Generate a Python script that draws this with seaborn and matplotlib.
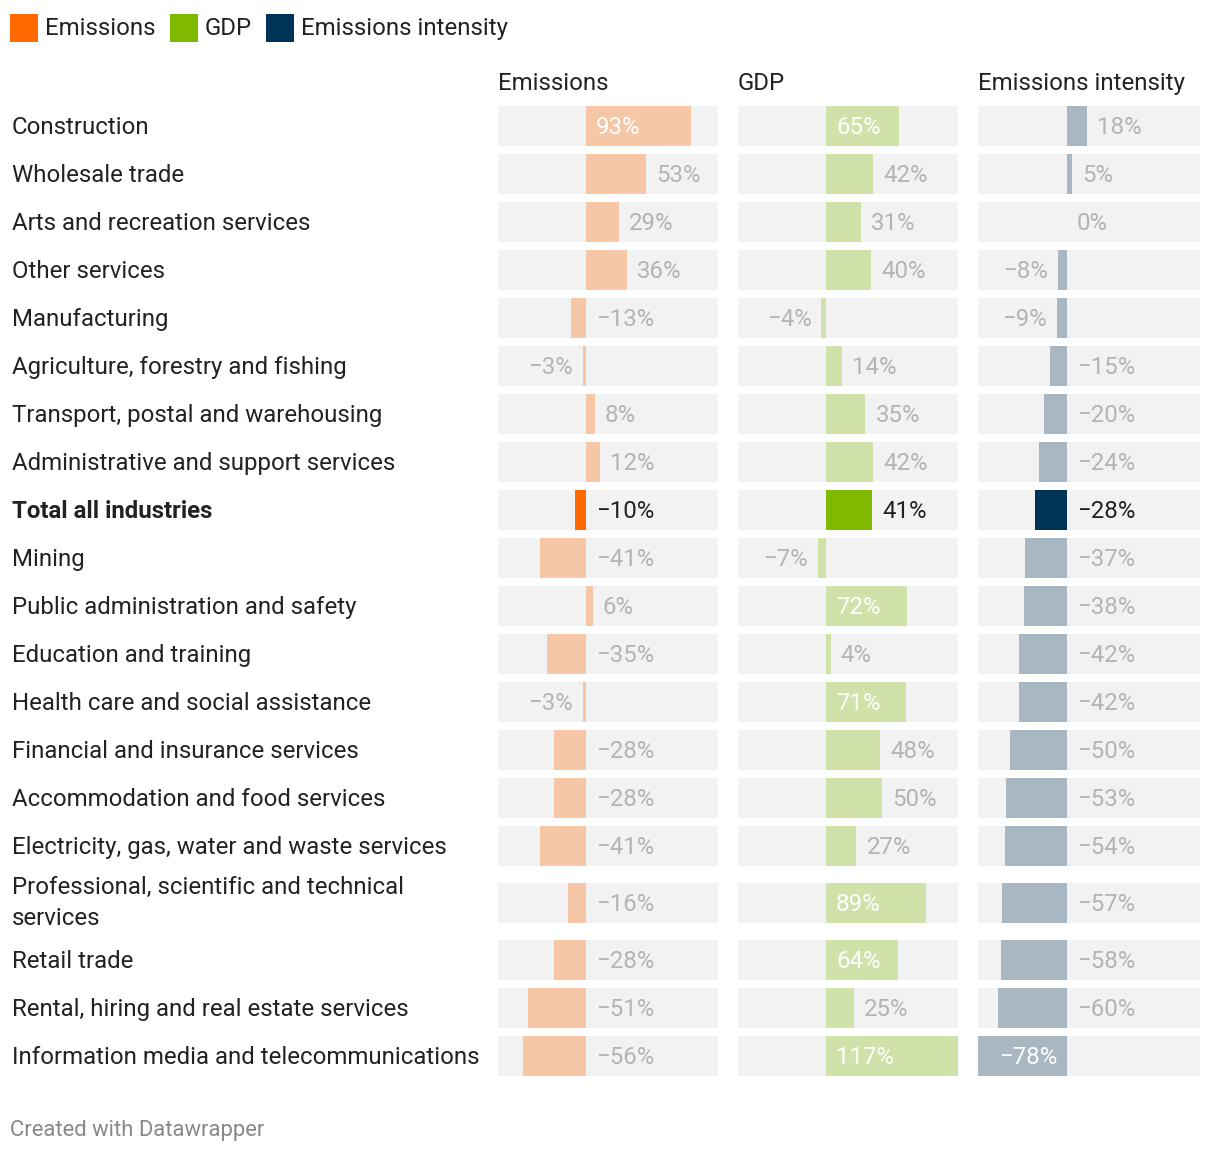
import matplotlib
matplotlib.use("Agg")
import matplotlib.pyplot as plt
from matplotlib.patches import Rectangle
import numpy as np
import pandas as pd
import seaborn as sns

# ---------------- data ----------------
industries = [
    "Construction",
    "Wholesale trade",
    "Arts and recreation services",
    "Other services",
    "Manufacturing",
    "Agriculture, forestry and fishing",
    "Transport, postal and warehousing",
    "Administrative and support services",
    "Total all industries",
    "Mining",
    "Public administration and safety",
    "Education and training",
    "Health care and social assistance",
    "Financial and insurance services",
    "Accommodation and food services",
    "Electricity, gas, water and waste services",
    "Professional, scientific and technical services",
    "Retail trade",
    "Rental, hiring and real estate services",
    "Information media and telecommunications",
]
emissions = [93, 53, 29, 36, -13, -3, 8, 12, -10, -41, 6, -35, -3, -28, -28, -41, -16, -28, -51, -56]
gdp = [65, 42, 31, 40, -4, 14, 35, 42, 41, -7, 72, 4, 71, 48, 50, 27, 89, 64, 25, 117]
intensity = [18, 5, 0, -8, -9, -15, -20, -24, -28, -37, -38, -42, -42, -50, -53, -54, -57, -58, -60, -78]
highlight = "Total all industries"

series_names = ["Emissions", "GDP", "Emissions intensity"]
strong_colors = ["#ff6a00", "#7fba00", "#003356"]
light_colors = ["#f5c7a7", "#d1e1aa", "#a8b7c2"]

# ---------------- style ----------------
plt.rcParams["font.family"] = ["Roboto", "DejaVu Sans"]
TEXT = "#222222"
GREY_LABEL = "#b4b4b4"
BG = "#f2f2f2"

W, H = 1220, 1152
DPI = 100
FS = 24 * 72 / DPI          # 24 px
FS_FOOT = 22 * 72 / DPI
DY = -1                     # small optical vertical shift for text

fig = plt.figure(figsize=(W / DPI, H / DPI), dpi=DPI)
fig.patch.set_facecolor("white")
renderer = fig.canvas.get_renderer()


def text_width(s, size=FS, weight="normal"):
    t = fig.text(0, 0, s, fontsize=size, weight=weight)
    w = t.get_window_extent(renderer).width
    t.remove()
    return w


def fx(x):
    return x / W


def fy(y):
    return 1 - y / H


def fmt(v):
    return ("\u2212" if v < 0 else "") + f"{abs(v)}%"


# ---------------- wrap labels & row layout ----------------
LABEL_X = 12
LABEL_MAXW = 476


def wrap(label, weight):
    words = label.split()
    lines, cur = [], ""
    for w_ in words:
        trial = (cur + " " + w_).strip()
        if cur and text_width(trial, FS, weight) > LABEL_MAXW:
            lines.append(cur)
            cur = w_
        else:
            cur = trial
    lines.append(cur)
    return "\n".join(lines)


wrapped = [wrap(l, "bold" if l == highlight else "normal") for l in industries]
nlines = np.array([w_.count("\n") + 1 for w_ in wrapped])
ROW = 48
EXTRA = 18
BAR_H = 40
TOP = 102
heights = ROW + EXTRA * (nlines - 1)
centers = TOP + np.cumsum(heights) - heights / 2
BOTTOM = TOP + heights.sum()

df = pd.DataFrame({
    "industry": industries,
    "ypos": centers,
    "Emissions": emissions,
    "GDP": gdp,
    "Emissions intensity": intensity,
})

XMIN = min(min(emissions), min(gdp), min(intensity))
XMAX = max(max(emissions), max(gdp), max(intensity))

panel_left = [498, 738, 978]
panel_w = [220, 220, 222]
PAD = 10

for i, name in enumerate(series_names):
    L, PW = panel_left[i], panel_w[i]
    ax = fig.add_axes([fx(L), fy(BOTTOM), PW / W, (BOTTOM - TOP) / H])
    ppu = PW / (XMAX - XMIN)
    # background tracks
    ax.barh(df["ypos"], XMAX - XMIN, left=XMIN, height=BAR_H, color=BG, zorder=0)
    palette = {ind: (strong_colors[i] if ind == highlight else light_colors[i]) for ind in industries}
    sns.barplot(data=df, x=name, y="ypos", hue="industry", palette=palette,
                orient="h", native_scale=True, width=BAR_H / ROW, errorbar=None,
                legend=False, ax=ax, saturation=1, zorder=2, linewidth=0)
    ax.set_xlim(XMIN, XMAX)
    ax.set_ylim(BOTTOM, TOP)
    ax.axis("off")

    for yc, v, ind in zip(df["ypos"], df[name], industries):
        hl = ind == highlight
        s = fmt(v)
        tw = text_width(s)
        bar_px = abs(v) * ppu
        if bar_px >= tw + 2 * PAD:
            x = (PAD / ppu) if v >= 0 else (-PAD / ppu)
            ha = "left" if v >= 0 else "right"
            col = "white"
        elif v >= 0 or v <= -10:
            x = (v + PAD / ppu) if v >= 0 else PAD / ppu
            ha = "left"
            col = TEXT if hl else GREY_LABEL
        else:
            x = v - PAD / ppu
            ha = "right"
            col = TEXT if hl else GREY_LABEL
        ax.text(x, yc + DY, s, ha=ha, va="center_baseline", fontsize=FS, color=col, zorder=3)

    fig.text(fx(L), fy(82 + DY), name, ha="left", va="center_baseline", fontsize=FS, color=TEXT)

# category labels
for lbl, yc, ind in zip(wrapped, centers, industries):
    multi = "\n" in lbl
    fig.text(fx(LABEL_X), fy(yc + (0 if multi else DY)), lbl, ha="left",
             va="center" if multi else "center_baseline",
             fontsize=FS, color=TEXT, linespacing=1.42,
             weight="bold" if ind == highlight else "normal")

# legend
x = 10
SQ = 28
for name, col in zip(series_names, strong_colors):
    fig.patches.append(Rectangle((fx(x), fy(42)), SQ / W, SQ / H, transform=fig.transFigure,
                                 facecolor=col, edgecolor="none"))
    tx = x + SQ + 7
    fig.text(fx(tx), fy(26), name, ha="left", va="center_baseline", fontsize=FS, color=TEXT)
    x = tx + text_width(name) + 14

# footer
fig.text(fx(10), fy(1128), "Created with Datawrapper", ha="left", va="center_baseline",
         fontsize=FS_FOOT, color="#888888")

fig.savefig("out.png", dpi=DPI, facecolor="white")
